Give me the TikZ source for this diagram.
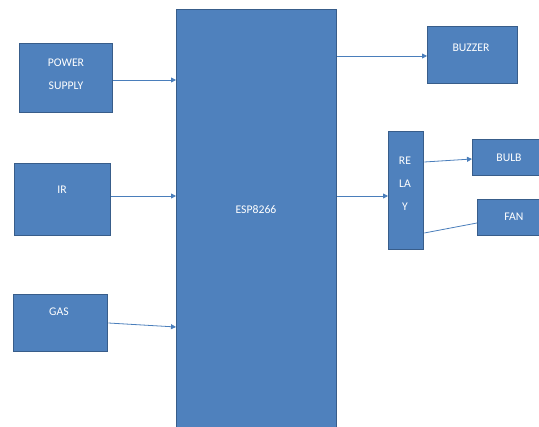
\documentclass[tikz,border=0pt]{standalone}
\usepackage{fontspec}
\setmainfont{Carlito}
\usetikzlibrary{arrows.meta}
\definecolor{boxfill}{HTML}{4F81BD}
\definecolor{boxline}{HTML}{385D8A}
\definecolor{arrowc}{HTML}{4A7EBB}
\begin{document}
\begin{tikzpicture}[x=1pt,y=-1pt,
  blk/.style={draw=boxline,line width=1.3pt,fill=boxfill,rectangle,inner sep=0pt,anchor=north west},
  lbl/.style={text=white,font=\fontsize{11.7}{23}\selectfont,align=center,inner sep=0pt},
  conn/.style={draw=arrowc,line width=0.8pt},
  arr/.style={conn,-{Triangle[length=5pt,width=5pt]}}]
\useasboundingbox (0,0) rectangle (539,427);
\clip (0,0) rectangle (539,427);
% blocks
\node[blk,minimum width=93pt,minimum height=69pt] (ps) at (19,43) {};
\node[blk,minimum width=96pt,minimum height=72pt] (ir) at (14,163) {};
\node[blk,minimum width=94pt,minimum height=57pt] (gas) at (13,294) {};
\node[blk,minimum width=160pt,minimum height=430pt] (esp) at (176,9) {};
\node[blk,minimum width=90pt,minimum height=57pt] (buz) at (427,26) {};
\node[blk,minimum width=35pt,minimum height=118pt] (rel) at (388,131) {};
\node[blk,minimum width=80pt,minimum height=36pt] (bulb) at (472,139) {};
\node[blk,minimum width=75pt,minimum height=36pt] (fan) at (477,199) {};
% labels
\node[lbl] (pst) at (66,74) {POWER\\SUPPLY};
\node[lbl] (irt) at (62,190) {IR};
\node[lbl] (gast) at (59,312) {GAS};
\node[lbl] (espt) at (256,210) {ESP8266};
\node[lbl] (buzt) at (471,48) {BUZZER};
\node[lbl] (relt) at (405,184) {RE\\LA\\Y};
\node[lbl] (bulbt) at (509,158) {BULB};
\node[lbl] (fant) at (514,217) {FAN};
% connectors
\draw[arr] (ps.east |- 0,80) -- (esp.west |- 0,80);
\draw[arr] (ir.east |- 0,196) -- (esp.west |- 0,196);
\draw[arr] (gas.east |- 0,323) -- (esp.west |- 0,327);
\draw[arr] (esp.east |- 0,56) -- (buz.west |- 0,56);
\draw[arr] (esp.east |- 0,196) -- (rel.west |- 0,196);
\draw[arr] (rel.east |- 0,162) -- (bulb.west |- 0,159);
\draw[conn] (rel.east |- 0,233) -- (fan.west |- 0,223);
\end{tikzpicture}
\end{document}
